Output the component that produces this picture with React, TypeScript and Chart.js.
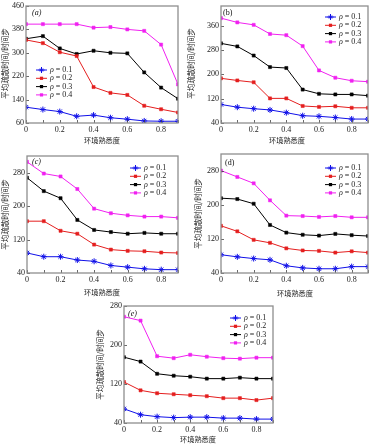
import React, { useEffect, useRef } from "react";
import { Chart, registerables } from "chart.js";
Chart.register(...registerables);

// ---------- data ----------
const xValues = [0, 0.1, 0.2, 0.3, 0.4, 0.5, 0.6, 0.7, 0.8, 0.9];
const xTickValues = [0, 0.2, 0.4, 0.6, 0.8];
const seriesLabels = ["0.1", "0.2", "0.3", "0.4"];
const seriesColors = ["#1010e8", "#e41e1e", "#000000", "#f020f0"];

const aRho1 = [114, 106, 99, 83, 87, 78, 73, 67, 66, 66];
const aRho2 = [344, 333, 302, 289, 183, 163, 156, 119, 107, 96];
const aRho3 = [348, 357, 315, 296, 307, 300, 298, 233, 181, 143];
const aRho4 = [398, 398, 398, 398, 386, 388, 380, 375, 328, 192];

const bRho1 = [101, 92, 87, 83, 74, 64, 62, 58, 53, 53];
const bRho2 = [187, 180, 174, 121, 121, 96, 93, 95, 90, 90];
const bRho3 = [302, 292, 262, 224, 221, 150, 136, 134, 134, 130];
const bRho4 = [385, 371, 363, 333, 329, 293, 213, 189, 179, 176];

const cRho1 = [88, 79, 79, 71, 68, 58, 54, 50, 48, 48];
const cRho2 = [164, 164, 141, 134, 108, 96, 93, 92, 89, 88];
const cRho3 = [268, 236, 219, 167, 143, 138, 134, 136, 134, 134];
const cRho4 = [306, 278, 271, 241, 194, 183, 178, 175, 175, 172];

const dRho1 = [83, 78, 74, 71, 57, 52, 50, 50, 55, 55];
const dRho2 = [151, 138, 118, 111, 98, 93, 92, 88, 91, 88];
const dRho3 = [216, 214, 203, 153, 135, 130, 128, 132, 129, 127];
const dRho4 = [281, 266, 251, 211, 175, 174, 172, 174, 171, 171];

const eRho1 = [69, 57, 53, 51, 52, 52, 50, 50, 48, 48];
const eRho2 = [124, 107, 101, 99, 97, 95, 91, 91, 87, 91];
const eRho3 = [175, 166, 141, 137, 135, 131, 131, 133, 131, 131];
const eRho4 = [258, 250, 177, 173, 180, 176, 173, 172, 174, 174];

const aTicks = [60, 140, 220, 300, 380, 460];
const bTicks = [40, 120, 200, 280, 360];
const cTicks = [40, 120, 200, 280];
const dTicks = [40, 120, 200, 280];
const eTicks = [40, 120, 200, 280];

const yTitle = "平均疏散时间/时间步";
const xTitle = "环境熟悉度";

// ---------- layout ----------
type Panel = {
  label: string;
  italicTag: boolean;
  series: number[][];
  yTicks: number[];
  yMin: number;
  yMax: number;
  left: number; top: number; w: number; h: number;
  plotL: number; plotT: number; plotR: number; plotB: number;
  yTitleX: number;
  xTitleX: number; xTitleY: number;
  legendX: number; legendY: number;
  tagX: number; tagY: number;
};

const panels: Panel[] = [
  { label: "(a)", italicTag: true, series: [aRho1, aRho2, aRho3, aRho4], yTicks: aTicks, yMin: 60, yMax: 460,
    left: 0, top: 0, w: 183, h: 148, plotL: 26, plotT: 4, plotR: 179, plotB: 123,
    yTitleX: 5, xTitleX: 102, xTitleY: 140, legendX: 36, legendY: 70, tagX: 32, tagY: 13 },
  { label: "(b)", italicTag: false, series: [bRho1, bRho2, bRho3, bRho4], yTicks: bTicks, yMin: 40, yMax: 425,
    left: 183, top: 0, w: 190, h: 148, plotL: 221, plotT: 4, plotR: 369, plotB: 123,
    yTitleX: 191, xTitleX: 287, xTitleY: 140, legendX: 325, legendY: 17, tagX: 223, tagY: 13 },
  { label: "(c)", italicTag: true, series: [cRho1, cRho2, cRho3, cRho4], yTicks: cTicks, yMin: 40, yMax: 320,
    left: 0, top: 148, w: 183, h: 150, plotL: 27, plotT: 156, plotR: 179, plotB: 273,
    yTitleX: 5, xTitleX: 102, xTitleY: 292, legendX: 130, legendY: 168, tagX: 32, tagY: 162 },
  { label: "(d)", italicTag: false, series: [dRho1, dRho2, dRho3, dRho4], yTicks: dTicks, yMin: 40, yMax: 320,
    left: 183, top: 148, w: 190, h: 150, plotL: 221, plotT: 154, plotR: 370, plotB: 273,
    yTitleX: 198, xTitleX: 295, xTitleY: 293, legendX: 325, legendY: 168, tagX: 225, tagY: 163 },
  { label: "(e)", italicTag: true, series: [eRho1, eRho2, eRho3, eRho4], yTicks: eTicks, yMin: 40, yMax: 280,
    left: 90, top: 298, w: 200, h: 149, plotL: 124, plotT: 306, plotR: 273, plotB: 423,
    yTitleX: 100, xTitleX: 198, xTitleY: 439, legendX: 230, legendY: 318, tagX: 128, tagY: 314 },
];

const SERIF = "'Liberation Serif', 'DejaVu Serif', serif";
const CJK = "'Noto Sans CJK SC', sans-serif";

function drawMarker(ctx: CanvasRenderingContext2D, i: number, x: number, y: number) {
  ctx.fillStyle = seriesColors[i];
  ctx.strokeStyle = seriesColors[i];
  if (i === 0) {
    ctx.lineWidth = 1;
    ctx.beginPath();
    ctx.moveTo(x - 3, y); ctx.lineTo(x + 3, y);
    ctx.moveTo(x, y - 3); ctx.lineTo(x, y + 3);
    ctx.moveTo(x - 1.5, y - 1.5); ctx.lineTo(x + 1.5, y + 1.5);
    ctx.moveTo(x - 1.5, y + 1.5); ctx.lineTo(x + 1.5, y - 1.5);
    ctx.stroke();
  } else {
    ctx.fillRect(x - 1.6, y - 1.6, 3.2, 3.2);
  }
}

const decorPlugin = {
  id: "decor",
  afterDraw(chart: any, _args: any, opts: any) {
    const p: Panel = opts.panel;
    const ctx: CanvasRenderingContext2D = chart.ctx;
    const ca = chart.chartArea;
    const xs = chart.scales.x;
    const ys = chart.scales.y;
    ctx.save();
    // ticks inward
    ctx.strokeStyle = "#444";
    ctx.lineWidth = 0.8;
    ctx.beginPath();
    for (const v of xValues) {
      const px = Math.round(xs.getPixelForValue(v)) + 0.5;
      ctx.moveTo(px, ca.bottom); ctx.lineTo(px, ca.bottom - 3);
    }
    for (const v of p.yTicks) {
      const py = Math.round(ys.getPixelForValue(v)) + 0.5;
      ctx.moveTo(ca.left, py); ctx.lineTo(ca.left + 3, py);
    }
    ctx.stroke();
    // frame
    ctx.strokeStyle = "#8e8e8e";
    ctx.lineWidth = 1.3;
    ctx.strokeRect(ca.left, ca.top, ca.right - ca.left, ca.bottom - ca.top);

    // panel tag
    ctx.fillStyle = "#111";
    ctx.font = `${p.italicTag ? "italic " : ""}8px ${SERIF}`;
    ctx.textBaseline = "middle";
    ctx.textAlign = "left";
    ctx.fillText(p.label, p.tagX - p.left, p.tagY - p.top);

    // y title
    ctx.save();
    ctx.translate(p.yTitleX - p.left, (p.plotT + p.plotB) / 2 - p.top);
    ctx.rotate(-Math.PI / 2);
    ctx.font = `7.5px ${CJK}`;
    ctx.textAlign = "center";
    ctx.textBaseline = "middle";
    ctx.fillStyle = "#222";
    ctx.fillText(yTitle, 0, 0);
    ctx.restore();

    // x title
    ctx.font = `7.2px ${CJK}`;
    ctx.textAlign = "center";
    ctx.textBaseline = "middle";
    ctx.fillStyle = "#222";
    ctx.fillText(xTitle, p.xTitleX - p.left, p.xTitleY - p.top);

    // legend
    for (let i = 0; i < seriesLabels.length; i++) {
      const ly = p.legendY - p.top + i * 8.3;
      const lx = p.legendX - p.left;
      ctx.strokeStyle = seriesColors[i];
      ctx.lineWidth = 1;
      ctx.beginPath();
      ctx.moveTo(lx, ly); ctx.lineTo(lx + 11, ly);
      ctx.stroke();
      drawMarker(ctx, i, lx + 5.5, ly);
      ctx.fillStyle = "#222";
      ctx.textAlign = "left";
      ctx.textBaseline = "middle";
      ctx.font = `italic 8px ${SERIF}`;
      ctx.fillText("ρ", lx + 14, ly);
      const w = ctx.measureText("ρ").width;
      ctx.font = `8px ${SERIF}`;
      ctx.fillText(" = " + seriesLabels[i], lx + 14 + w, ly);
    }
    ctx.restore();
  },
};

function PanelChart({ p }: { p: Panel }) {
  const ref = useRef<HTMLCanvasElement>(null);
  useEffect(() => {
    if (!ref.current) return;
    const tickFont = { family: SERIF, size: 8, lineHeight: 1 };
    const chart = new Chart(ref.current, {
      type: "line",
      data: {
        datasets: p.series.map((s, i) => ({
          label: "ρ = " + seriesLabels[i],
          data: xValues.map((x, j) => ({ x, y: s[j] })),
          borderColor: seriesColors[i],
          backgroundColor: seriesColors[i],
          borderWidth: 1,
          pointStyle: i === 0 ? "star" : "rect",
          pointRadius: i === 0 ? 3 : 2.2,
          pointBorderWidth: i === 0 ? 1 : 0.5,
          tension: 0,
        })),
      },
      options: {
        animation: false,
        responsive: false,
        devicePixelRatio: 1,
        layout: {
          padding: { top: p.plotT - p.top, right: p.left + p.w - p.plotR, left: 0, bottom: 0 },
        },
        plugins: {
          legend: { display: false },
          tooltip: { enabled: false },
          decor: { panel: p },
        } as any,
        scales: {
          x: {
            type: "linear",
            min: 0,
            max: 0.9,
            grid: { display: false, drawTicks: false },
            border: { display: false },
            ticks: {
              font: tickFont,
              color: "#222",
              padding: 3,
              maxRotation: 0,
              autoSkip: false,
              callback: (v: any) => String(Math.round(Number(v) * 10) / 10),
            },
            afterBuildTicks: (scale: any) => {
              scale.ticks = xTickValues.map((v) => ({ value: v }));
            },
            afterFit: (scale: any) => {
              scale.height = p.top + p.h - p.plotB;
            },
          },
          y: {
            type: "linear",
            min: p.yMin,
            max: p.yMax,
            grid: { display: false, drawTicks: false },
            border: { display: false },
            ticks: {
              font: tickFont,
              color: "#222",
              padding: 2,
              autoSkip: false,
              callback: (v: any) => String(v),
            },
            afterBuildTicks: (scale: any) => {
              scale.ticks = p.yTicks.map((v) => ({ value: v }));
            },
            afterFit: (scale: any) => {
              scale.width = p.plotL - p.left;
            },
          },
        },
      } as any,
      plugins: [decorPlugin],
    });
    return () => chart.destroy();
  }, [p]);
  return (
    <canvas
      ref={ref}
      width={p.w}
      height={p.h}
      style={{ position: "absolute", left: p.left, top: p.top, width: p.w, height: p.h }}
    />
  );
}

export default function App() {
  return (
    <div style={{ position: "absolute", left: 0, top: 0, width: 373, height: 447, background: "#fff" }}>
      {panels.map((p) => (
        <PanelChart key={p.label} p={p} />
      ))}
    </div>
  );
}
